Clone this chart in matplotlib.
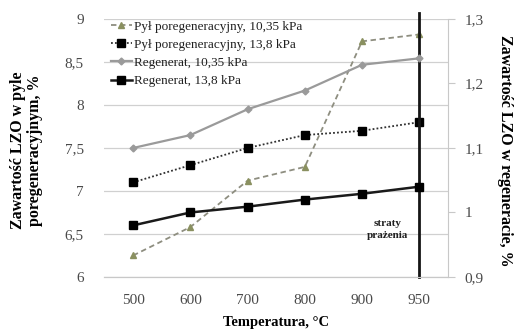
import matplotlib
matplotlib.use("Agg")
import matplotlib.pyplot as plt
from matplotlib.ticker import FuncFormatter

plt.rcParams['font.family'] = ['Liberation Serif', 'DejaVu Serif']

temps = ['500', '600', '700', '800', '900', '950']
pyl_1035 = [6.25, 6.58, 7.12, 7.28, 8.74, 8.82]
pyl_138 = [7.10, 7.30, 7.50, 7.65, 7.70, 7.80]
reg_1035 = [1.100, 1.120, 1.160, 1.189, 1.229, 1.239]
reg_138 = [0.980, 1.000, 1.009, 1.020, 1.029, 1.040]

x = list(range(len(temps)))

fig = plt.figure(figsize=(5.19, 3.34), dpi=100)
ax = fig.add_axes([0.2013, 0.1707, 0.6617, 0.7725])
ax2 = ax.twinx()

comma = FuncFormatter(lambda v, p: ('%g' % round(v, 2)).replace('.', ','))

ax.set_xlim(-0.5, 5.5)
ax.set_ylim(6, 9)
ax.set_yticks([6, 6.5, 7, 7.5, 8, 8.5, 9])
ax.yaxis.set_major_formatter(comma)
ax.set_xticks(x)
ax.set_xticklabels(temps)
ax.grid(axis='y', color='#d0d0d0', lw=0.9)
ax.set_axisbelow(True)
ax2.set_ylim(0.9, 1.3)
ax2.set_yticks([0.9, 1.0, 1.1, 1.2, 1.3])
ax2.yaxis.set_major_formatter(comma)

for a in (ax, ax2):
    for s in ('top', 'left', 'right'):
        a.spines[s].set_visible(False)
    a.spines['bottom'].set_color('#c8c8c8')
ax2.spines['right'].set_visible(True)
ax2.spines['right'].set_color('#c8c8c8')
ax.tick_params(axis='y', length=0, labelsize=11, labelcolor='#4a4a4a', pad=15)
ax.tick_params(axis='x', length=0, labelsize=11, labelcolor='#4a4a4a', pad=12)
ax2.tick_params(axis='y', length=5, color='#c8c8c8', labelsize=11,
                labelcolor='#4a4a4a', pad=7)

l1, = ax.plot(x, pyl_1035, ls=(0, (3, 2)), color='#8e8e80', lw=1.3,
              marker='^', ms=4, mfc='#8a9060', mec='#8a9060',
              label='Pył poregeneracyjny, 10,35 kPa')
l2, = ax.plot(x, pyl_138, ls=(0, (1, 1.2)), color='#303030', lw=1.3,
              marker='s', ms=6, mfc='black', mec='black',
              label='Pył poregeneracyjny, 13,8 kPa')
l3, = ax2.plot(x, reg_1035, ls='-', color='#9a9a9a', lw=1.6,
               marker='D', ms=3.5, mfc='#9a9a9a', mec='#9a9a9a',
               label='Regenerat, 10,35 kPa')
l4, = ax2.plot(x, reg_138, ls='-', color='#1a1a1a', lw=1.8,
               marker='s', ms=6, mfc='black', mec='black',
               label='Regenerat, 13,8 kPa')

ax.plot([5, 5], [6, 9.07], color='#151515', lw=2, clip_on=False, zorder=5)
ax.text(4.45, 6.55, 'straty\nprażenia', fontsize=8, fontweight='bold',
        ha='center', va='center', linespacing=1.35, color='#202020')

leg = ax.legend(handles=[l1, l2, l3, l4], loc='upper left',
                bbox_to_anchor=(-0.005, 1.025), frameon=False, fontsize=9.5,
                handlelength=1.6, handletextpad=0.2, labelspacing=0.45,
                borderaxespad=0.2)
for t in leg.get_texts():
    t.set_color('#202020')

ax.set_xlabel('Temperatura, °C', fontsize=10.5, fontweight='bold')
ax.xaxis.set_label_coords(0.5, -0.15)
ax.set_ylabel('Zawartość LZO w pyle\nporegeneracyjnym, %', fontsize=11.5,
              fontweight='bold', linespacing=1.05)
ax.yaxis.set_label_coords(-0.18, 0.49)
ax2.set_ylabel('Zawartość LZO w regeneracie, %', fontsize=11.5,
               fontweight='bold', rotation=270, va='center')
ax2.yaxis.set_label_coords(1.165, 0.49)

fig.savefig('out.png', dpi=100)
